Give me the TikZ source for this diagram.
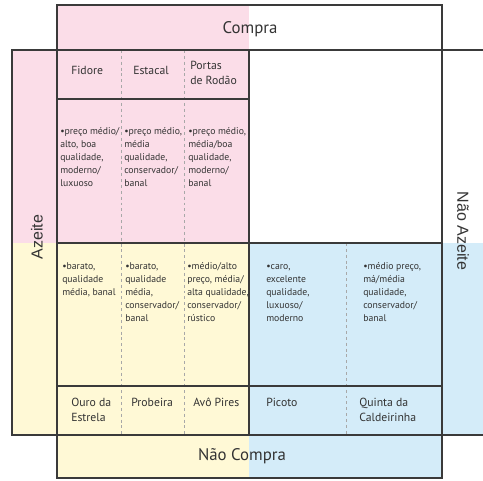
\documentclass[tikz,border=0pt]{standalone}
\usepackage{fontspec}
\setmainfont{PT Sans}
\newfontfamily\arialf{Liberation Sans}
\definecolor{pinkc}{HTML}{FBDDE8}
\definecolor{yellowc}{HTML}{FFF9D6}
\definecolor{bluec}{HTML}{D4ECF9}
\definecolor{linec}{HTML}{3A3A3A}
\definecolor{dashc}{HTML}{A8A8A8}
\definecolor{textc}{HTML}{333333}
\newcommand\descst{\rule{0pt}{7pt}}
\newcommand\headst{\rule{0pt}{9pt}}
\tikzset{
  gridline/.style={draw=linec, line width=0.9pt},
  dashline/.style={draw=dashc, line width=0.6pt, dash pattern=on 2.2pt off 2.2pt},
  desc/.style={font=\fontsize{7.3}{9.8}\selectfont, text=textc, align=left, inner sep=0pt, anchor=north west},
  head/.style={font=\fontsize{8.8}{11.2}\selectfont, text=textc, align=left, inner sep=0pt, anchor=north west},
  title/.style={font=\fontsize{12.6}{14}\selectfont, text=textc, inner sep=0pt},
  side/.style={font=\arialf\fontsize{12}{14}\selectfont, text=textc, inner sep=0pt}
}
\begin{document}
\begin{tikzpicture}[x=0.75pt,y=-0.75pt]
\useasboundingbox (0,0) rectangle (483,481);
% fills
\fill[pinkc] (57,5) rectangle (249,243);
\fill[pinkc] (12,50) rectangle (57,243);
\fill[yellowc] (12,243) rectangle (57,435);
\fill[yellowc] (57,243) rectangle (249,478);
\fill[bluec] (249,243) rectangle (442,478);
\fill[bluec] (442,243) rectangle (483,435);
% dashed separators
\draw[dashline] (121,50) -- (121,435);
\draw[dashline] (184,50) -- (184,435);
\draw[dashline] (346,243) -- (346,435);
% grid lines
\draw[gridline] (57,5) rectangle (442,50);
\draw[gridline] (57,435) rectangle (442,478);
\draw[gridline] (483,50) -- (12,50) -- (12,435) -- (483,435);
\draw[gridline] (57,50) -- (57,435);
\draw[gridline] (249,50) -- (249,435);
\draw[gridline] (442,50) -- (442,435);
\draw[gridline] (57,99) -- (249,99);
\draw[gridline] (57,243) -- (442,243);
\draw[gridline] (57,386) -- (442,386);
% titles
\node[title] (compra) at (250,29) {Compra};
\node[title] (naocompra) at (242,456) {Não Compra};
\node[side, rotate=90] (azeite) at (37,237) {Azeite};
\node[side, rotate=-90] (naoazeite) at (463,231) {Não Azeite};
% headers (top = baseline - 12px)
\node[head] (fidore) at (71,62) {\headst Fidore};
\node[head] (estacal) at (133,62) {\headst Estacal};
\node[head] (portas) at (190,57) {\headst Portas\\de Rodão};
% upper descriptions (top = baseline - 9.33px)
\node[desc] (d1) at (60,124.5) {\descst•preço médio/\\alto, boa\\qualidade,\\moderno/\\luxuoso};
\node[desc] (d2) at (124,124.5) {\descst•preço médio,\\média\\qualidade,\\conservador/\\banal};
\node[desc] (d3) at (188,124.5) {\descst•preço médio,\\média/boa\\qualidade,\\moderno/\\banal};
% lower descriptions
\node[desc] (d4) at (62,259.5) {\descst•barato,\\qualidade\\média, banal};
\node[desc] (d5) at (125,259.5) {\descst•barato,\\qualidade\\média,\\conservador/\\banal};
\node[desc] (d6) at (187,259.5) {\descst•médio/alto\\preço, média/\\alta qualidade,\\conservador/\\rústico};
\node[desc] (d7) at (266,259.5) {\descst•caro,\\excelente\\qualidade,\\luxuoso/\\moderno};
\node[desc] (d8) at (363,259.5) {\descst•médio preço,\\má/média\\qualidade,\\conservador/\\banal};
% bottom brands
\node[head] (ouro) at (71,394) {\headst Ouro da\\Estrela};
\node[head] (probeira) at (131,394) {\headst Probeira};
\node[head] (avo) at (193,394) {\headst Avô Pires};
\node[head] (picoto) at (266,394) {\headst Picoto};
\node[head] (quinta) at (359,394) {\headst Quinta da\\Caldeirinha};
\end{tikzpicture}
\end{document}
